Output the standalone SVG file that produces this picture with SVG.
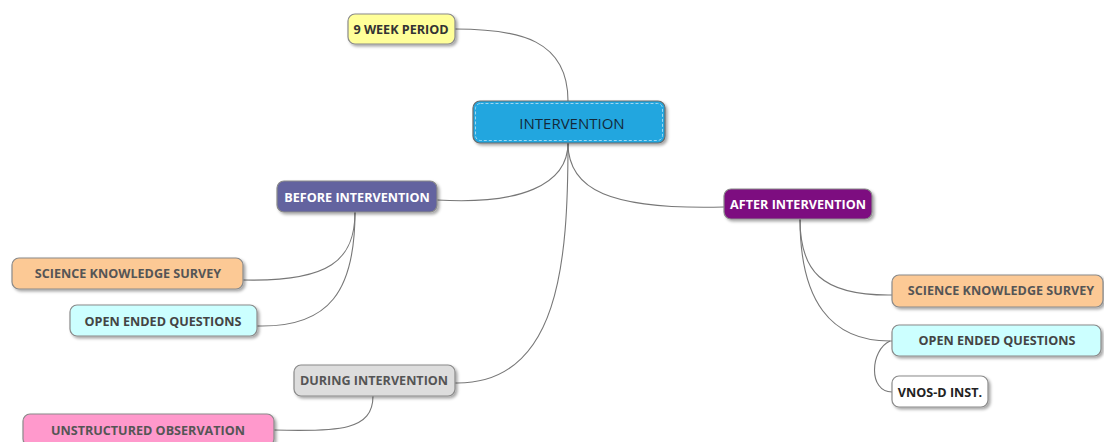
<svg xmlns="http://www.w3.org/2000/svg" width="1104" height="442" viewBox="0 0 1104 442">
<defs>
<filter id="sh" x="-10%" y="-30%" width="130%" height="170%">
<feDropShadow dx="2" dy="2" stdDeviation="1.5" flood-color="#000" flood-opacity="0.35"/>
</filter>
<style>
.box{stroke:#8a8a8a;stroke-width:1.2;filter:url(#sh)}
.t{font-family:"Open Sans","Liberation Sans",sans-serif;font-weight:bold;font-size:12.6px;text-anchor:middle;dominant-baseline:central}
.c{fill:none;stroke:#777;stroke-width:1.1}
</style>
</defs>
<rect width="1104" height="442" fill="#fff"/>
<g id="connectors">
<path class="c" d="M455,29 C520,29 568,40 568,101"/>
<path class="c" d="M568,143 C568,185 520,205 437,200"/>
<path class="c" d="M568,143 C568,190 610,210 724,207"/>
<path class="c" d="M568,143 C568,260 560,385 455,383"/>
<path class="c" d="M355,212 C355,260 330,282 243,280"/>
<path class="c" d="M355,212 C355,290 330,328 257,326"/>
<path class="c" d="M800,219 C800,270 820,296 892,295"/>
<path class="c" d="M800,219 C800,300 830,342 892,341"/>
<path class="c" d="M890,341 C870,350 868,392 892,392"/>
<path class="c" d="M373,396 C373,430 340,432 274,430"/>
</g>
<g id="n9week">
<rect class="box" x="348" y="14" width="107" height="30" rx="7" fill="#ffff99"/>
<text class="t" x="401" y="29" fill="#333" font-size="13">9 WEEK PERIOD</text>
</g>
<g id="nIntervention">
<rect x="473" y="101" width="192" height="42" rx="7" fill="#24a6df" stroke="#6a6a6a" stroke-width="1.2" filter="url(#sh)"/>
<rect x="475.5" y="103.5" width="187" height="37" rx="5" fill="none" stroke="#bfe3f5" stroke-width="0.8" stroke-dasharray="3,2"/>
<text x="572" y="123" font-family="'Open Sans','Liberation Sans',sans-serif" font-size="15" text-anchor="middle" dominant-baseline="central" fill="#132a3a">INTERVENTION</text>
</g>
<g id="nBefore">
<rect class="box" x="277" y="181" width="160" height="31" rx="7" fill="#64649f"/>
<text class="t" x="357" y="197" fill="#fff">BEFORE INTERVENTION</text>
</g>
<g id="nAfter">
<rect class="box" x="724" y="189" width="148" height="30" rx="7" fill="#7d0d80"/>
<text class="t" x="798" y="204" fill="#fff">AFTER INTERVENTION</text>
</g>
<g id="nSurveyL">
<rect class="box" x="12" y="258" width="231" height="31" rx="7" fill="#fcc995"/>
<text class="t" x="128" y="273" fill="#555">SCIENCE KNOWLEDGE SURVEY</text>
</g>
<g id="nOpenL">
<rect class="box" x="70" y="305" width="187" height="31" rx="7" fill="#ccffff"/>
<text class="t" x="163" y="321" fill="#444">OPEN ENDED QUESTIONS</text>
</g>
<g id="nDuring">
<rect class="box" x="294" y="365" width="161" height="31" rx="7" fill="#dddddd"/>
<text class="t" x="374" y="380" fill="#555">DURING INTERVENTION</text>
</g>
<g id="nUnstructured">
<rect class="box" x="23" y="414" width="251" height="32" rx="7" fill="#ff99cc"/>
<text class="t" x="148" y="430" fill="#555">UNSTRUCTURED OBSERVATION</text>
</g>
<g id="nSurveyR">
<rect class="box" x="892" y="275" width="211" height="32" rx="7" fill="#fcc995"/>
<text class="t" x="1001" y="290" fill="#555">SCIENCE KNOWLEDGE SURVEY</text>
</g>
<g id="nOpenR">
<rect class="box" x="892" y="325" width="209" height="31" rx="7" fill="#ccffff"/>
<text class="t" x="997" y="340" fill="#444">OPEN ENDED QUESTIONS</text>
</g>
<g id="nVnos">
<rect class="box" x="892" y="376" width="96" height="31" rx="7" fill="#ffffff"/>
<text class="t" x="940" y="392" fill="#222">VNOS-D INST.</text>
</g>
</svg>
